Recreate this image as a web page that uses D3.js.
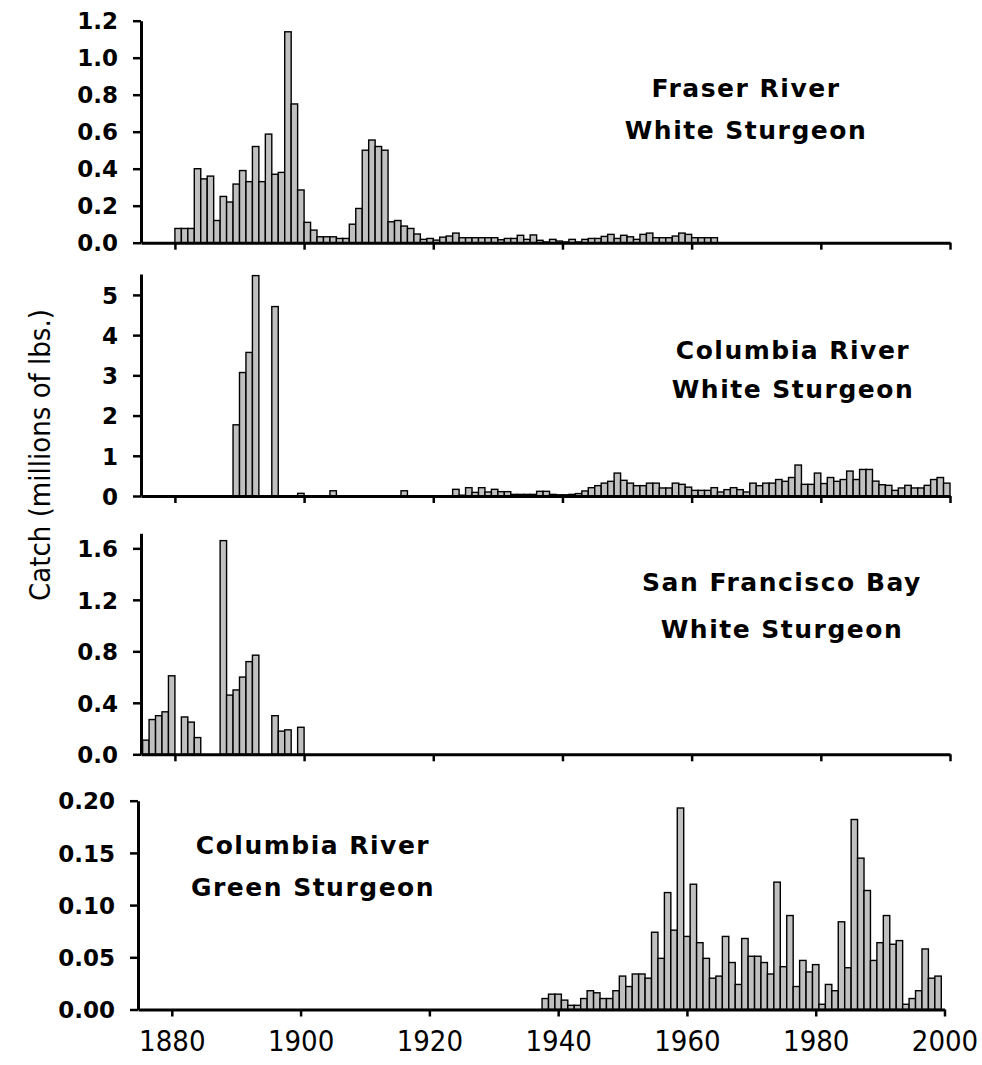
<!DOCTYPE html>
<html>
<head>
<meta charset="utf-8">
<script src="https://cdn.jsdelivr.net/npm/d3@7"></script>
<style>
  html, body { margin: 0; padding: 0; background: #fff; }
  svg { display: block; }
  .tick-label { font-family: "DejaVu Sans", Verdana, sans-serif; font-weight: bold; font-size: 23px; fill: #000; }
  .year-label { font-family: "Liberation Sans Narrow", "DejaVu Sans Condensed", sans-serif; font-size: 29px; fill: #000; }
  .axis-title { font-family: "Liberation Sans Narrow", "DejaVu Sans Condensed", sans-serif; font-size: 29px; fill: #000; }
  .panel-title { font-family: "Comic Sans MS", "DejaVu Sans", sans-serif; font-weight: bold; font-size: 25px; letter-spacing: 1.5px; fill: #000; }
</style>
</head>
<body>
<svg id="chart" width="982" height="1065"></svg>
<script>
/* === Sturgeon catch, four stacked bar panels === */

const yearTicks = [1880, 1900, 1920, 1940, 1960, 1980, 2000];

// Fraser River white sturgeon, 1880-1963 (millions of lbs.)
const fraserStart = 1880;
const fraserCatch = [
  0.077, 0.077, 0.077, 0.40, 0.345, 0.36, 0.12, 0.25, 0.22, 0.317,
  0.39, 0.33, 0.52, 0.33, 0.587, 0.37, 0.38, 1.14, 0.75, 0.285,
  0.11, 0.068, 0.032, 0.032, 0.032, 0.023, 0.023, 0.10, 0.185, 0.50,
  0.555, 0.52, 0.50, 0.113, 0.12, 0.09, 0.077, 0.047, 0.018, 0.023,
  0.014, 0.03, 0.036, 0.052, 0.027, 0.027, 0.027, 0.027, 0.027, 0.027,
  0.016, 0.023, 0.023, 0.04, 0.018, 0.042, 0.013, 0.004, 0.018, 0.009,
  0.004, 0.018, 0.004, 0.018, 0.023, 0.023, 0.034, 0.045, 0.023, 0.04,
  0.032, 0.018, 0.045, 0.052, 0.027, 0.027, 0.027, 0.036, 0.052, 0.045,
  0.027, 0.027, 0.027, 0.027
];

// Columbia River white sturgeon, 1889-1999
const colWhiteStart = 1889;
const colWhiteCatch = [
  1.77, 3.07, 3.57, 5.48, 0, 0, 4.71, 0, 0, 0,
  0.066, 0, 0, 0, 0, 0.13, 0, 0, 0, 0,
  0, 0, 0, 0, 0, 0, 0.13, 0, 0, 0,
  0, 0, 0, 0, 0.166, 0.02, 0.207, 0.09, 0.207, 0.10,
  0.166, 0.108, 0.108, 0.04, 0.04, 0.04, 0.04, 0.116, 0.116, 0.04,
  0.03, 0.03, 0.04, 0.06, 0.125, 0.207, 0.257, 0.32, 0.365, 0.57,
  0.39, 0.32, 0.257, 0.257, 0.32, 0.32, 0.2, 0.2, 0.32, 0.29,
  0.22, 0.14, 0.14, 0.14, 0.207, 0.10, 0.158, 0.207, 0.158, 0.10,
  0.32, 0.257, 0.32, 0.32, 0.41, 0.365, 0.46, 0.77, 0.29, 0.29,
  0.57, 0.31, 0.46, 0.365, 0.41, 0.62, 0.41, 0.66, 0.66, 0.37,
  0.28, 0.265, 0.14, 0.2, 0.265, 0.2, 0.2, 0.265, 0.41, 0.46,
  0.32
];

// San Francisco Bay white sturgeon, 1875-1899
const sfStart = 1875;
const sfCatch = [
  0.11, 0.27, 0.30, 0.33, 0.61, 0, 0.29, 0.25, 0.13, 0,
  0, 0, 1.66, 0.46, 0.50, 0.60, 0.72, 0.77, 0, 0,
  0.30, 0.18, 0.19, 0, 0.21
];

// Columbia River green sturgeon, 1938-1999
const greenStart = 1938;
const greenCatch = [
  0.0105, 0.0147, 0.0147, 0.009, 0.004, 0.004, 0.0105, 0.018, 0.016, 0.0105,
  0.0105, 0.018, 0.032, 0.022, 0.034, 0.034, 0.030, 0.074, 0.049, 0.112,
  0.076, 0.193, 0.070, 0.120, 0.064, 0.049, 0.030, 0.032, 0.070, 0.045,
  0.024, 0.068, 0.051, 0.051, 0.045, 0.034, 0.122, 0.041, 0.090, 0.022,
  0.047, 0.036, 0.043, 0.005, 0.024, 0.018, 0.084, 0.040, 0.182, 0.145,
  0.114, 0.047, 0.064, 0.090, 0.0625, 0.066, 0.005, 0.0105, 0.018, 0.058,
  0.030, 0.032
];

const fraserTicks = [0, 0.2, 0.4, 0.6, 0.8, 1.0, 1.2];
const colWhiteTicks = [0, 1, 2, 3, 4, 5];
const sfTicks = [0, 0.4, 0.8, 1.2, 1.6];
const greenTicks = [0, 0.05, 0.10, 0.15, 0.20];

const panels = [
  { start: fraserStart, values: fraserCatch, ticks: fraserTicks, fmt: d3.format(".1f"),
    yMax: 1.2, top: 20.7, base: 242.7, left: 141, right: 950, shift: 0,
    title: ["Fraser River", "White Sturgeon"], tx: 746, ty: [97, 139] },
  { start: colWhiteStart, values: colWhiteCatch, ticks: colWhiteTicks, fmt: d3.format("d"),
    yMax: 5.52, top: 274, base: 496, left: 141, right: 950, shift: 0,
    title: ["Columbia River", "White Sturgeon"], tx: 793, ty: [359, 398] },
  { start: sfStart, values: sfCatch, ticks: sfTicks, fmt: d3.format(".1f"),
    yMax: 1.717, top: 533.3, base: 754.3, left: 141, right: 950, shift: 0,
    title: ["San Francisco Bay", "White Sturgeon"], tx: 782, ty: [591, 638] },
  { start: greenStart, values: greenCatch, ticks: greenTicks, fmt: d3.format(".2f"),
    yMax: 0.2, top: 800.7, base: 1009.5, left: 138, right: 944.5, shift: -0.5,
    title: ["Columbia River", "Green Sturgeon"], tx: 313, ty: [854, 896] }
];

const svg = d3.select("#chart");

panels.forEach((p, i) => {
  const x = d3.scaleLinear().domain([1874.75, 2000]).range([p.left, p.right]);
  const y = d3.scaleLinear().domain([0, p.yMax]).range([p.base, p.top]);
  const g = svg.append("g");

  const rows = p.values
    .map((v, k) => ({ year: p.start + k, v }))
    .filter(d => d.v > 0);

  // Bars
  g.selectAll("rect.bar")
    .data(rows)
    .join("rect")
      .attr("class", "bar")
      .attr("x", d => x(d.year + p.shift))
      .attr("width", d => x(d.year + p.shift + 1) - x(d.year + p.shift))
      .attr("y", d => y(d.v))
      .attr("height", d => p.base - y(d.v))
      .attr("fill", "#c0c0c0")
      .attr("stroke", "#000")
      .attr("stroke-width", 1.4);

  // Y axis
  const yAxis = d3.axisLeft(y)
    .tickValues(p.ticks)
    .tickFormat(p.fmt)
    .tickSize(8)
    .tickPadding(15)
    .tickSizeOuter(0);
  const ya = g.append("g")
    .attr("transform", `translate(${p.left},0)`)
    .call(yAxis);
  ya.select(".domain").attr("stroke-width", 3);
  ya.selectAll(".tick line").attr("stroke-width", 2.5);
  ya.selectAll(".tick text").attr("class", "tick-label").attr("dy", "0.36em");

  // X axis
  const xAxis = d3.axisBottom(x)
    .tickValues(yearTicks)
    .tickSize(7)
    .tickSizeOuter(0)
    .tickFormat(i === panels.length - 1 ? d3.format("d") : "");
  const xa = g.append("g")
    .attr("transform", `translate(0,${p.base})`)
    .call(xAxis);
  xa.select(".domain").attr("stroke-width", 3);
  xa.selectAll(".tick line").attr("stroke-width", 2.5);
  xa.selectAll(".tick text").attr("class", "year-label").attr("y", 21).attr("dy", "0.71em");

  // Panel title
  g.selectAll("text.panel-title")
    .data(p.title)
    .join("text")
      .attr("class", "panel-title")
      .attr("x", p.tx)
      .attr("y", (d, k) => p.ty[k])
      .attr("text-anchor", "middle")
      .text(d => d);
});

// Shared y-axis title
svg.append("text")
  .attr("class", "axis-title")
  .attr("transform", "translate(50,455) rotate(-90)")
  .attr("text-anchor", "middle")
  .text("Catch (millions of lbs.)");
</script>
</body>
</html>
